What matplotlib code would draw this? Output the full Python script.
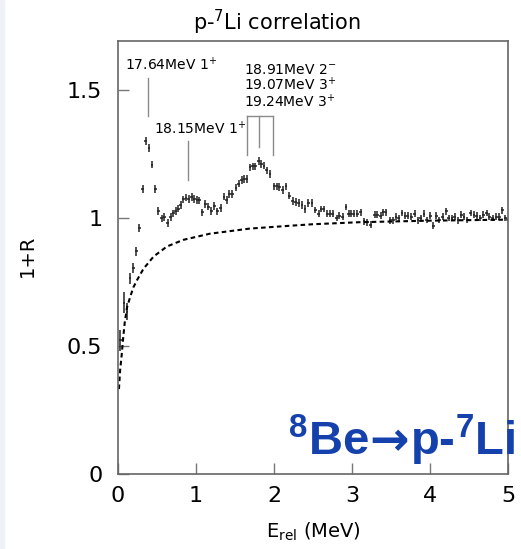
import matplotlib
matplotlib.use("Agg")
import matplotlib.pyplot as plt
from matplotlib.patches import Rectangle

plt.rcParams['font.family'] = ['DejaVu Sans']
plt.rcParams['mathtext.fontset'] = 'custom'
plt.rcParams['mathtext.rm'] = 'DejaVu Sans'
plt.rcParams['mathtext.it'] = 'DejaVu Sans:italic'
plt.rcParams['mathtext.bf'] = 'Liberation Sans:bold'

# ---- data: p-7Li correlation function 1+R vs E_rel (MeV) ----
E_rel = [0.033, 0.081, 0.119, 0.157, 0.200, 0.238, 0.277, 0.320, 0.360, 0.401,
         0.439, 0.481, 0.520, 0.563, 0.597, 0.640, 0.676, 0.711, 0.743, 0.776,
         0.807, 0.840, 0.875, 0.910, 0.948, 0.981, 1.019, 1.047, 1.083, 1.122,
         1.160, 1.198, 1.237, 1.275, 1.319, 1.361, 1.396, 1.429, 1.467, 1.515,
         1.549, 1.588, 1.617, 1.652, 1.694, 1.729, 1.762, 1.805, 1.839, 1.873,
         1.908, 1.950, 2.001, 2.036, 2.069, 2.113, 2.155, 2.197, 2.241, 2.277,
         2.318, 2.360, 2.398, 2.440, 2.488, 2.530, 2.574, 2.607, 2.641, 2.684,
         2.718, 2.753, 2.804, 2.837, 2.881, 2.923, 2.958, 2.991, 3.026, 3.068,
         3.111, 3.154, 3.196, 3.239, 3.291, 3.324, 3.367, 3.401, 3.435, 3.487,
         3.529, 3.563, 3.598, 3.640, 3.682, 3.717, 3.759, 3.803, 3.845, 3.880,
         3.922, 3.956, 3.999, 4.041, 4.076, 4.118, 4.161, 4.204, 4.238, 4.280,
         4.315, 4.357, 4.400, 4.434, 4.476, 4.520, 4.562, 4.597, 4.639, 4.681,
         4.725, 4.758, 4.802, 4.844, 4.886, 4.921, 4.963]
one_plus_R = [0.520, 0.668, 0.633, 0.762, 0.803, 0.868, 0.959, 1.111, 1.298, 1.272,
              1.207, 1.111, 1.026, 0.997, 1.002, 0.980, 1.003, 1.016, 1.026, 1.035,
              1.048, 1.071, 1.078, 1.072, 1.080, 1.072, 1.070, 1.067, 1.020, 1.052,
              1.043, 1.026, 1.044, 1.024, 1.037, 1.082, 1.070, 1.092, 1.093, 1.117,
              1.133, 1.147, 1.150, 1.150, 1.196, 1.200, 1.200, 1.222, 1.210, 1.203,
              1.184, 1.171, 1.122, 1.122, 1.119, 1.109, 1.122, 1.086, 1.066, 1.062,
              1.058, 1.048, 1.034, 1.057, 1.057, 1.030, 1.015, 1.033, 1.033, 1.015,
              1.015, 1.015, 0.998, 1.007, 1.004, 1.041, 1.015, 1.015, 1.015, 1.015,
              1.020, 0.985, 0.981, 0.972, 1.011, 1.011, 1.007, 1.020, 1.020, 0.989,
              0.989, 1.004, 0.998, 1.018, 1.007, 1.007, 1.004, 1.015, 0.989, 0.998,
              1.015, 0.991, 1.007, 0.968, 1.007, 0.991, 1.004, 1.024, 0.998, 0.998,
              1.004, 0.989, 1.011, 1.004, 0.991, 1.018, 1.011, 1.007, 0.998, 1.011,
              1.018, 1.004, 0.998, 1.004, 1.004, 1.028, 0.998]
low_E_errors = [0.042, 0.042, 0.033, 0.022, 0.020, 0.018, 0.016, 0.016]
mid_error = 0.015
tail_error = 0.013
bin_half_width = 0.018

# dashed curve (non-resonant baseline)
curve_E = [0.016, 0.03, 0.05, 0.07, 0.09, 0.12, 0.16, 0.20, 0.25, 0.33, 0.46,
           0.63, 0.84, 1.18, 1.69, 2.2, 2.5, 3.1, 4.0, 5.0]
curve_R = [0.33, 0.40, 0.46, 0.53, 0.59, 0.65, 0.69, 0.727, 0.757, 0.80, 0.848,
           0.887, 0.913, 0.937, 0.957, 0.968, 0.974, 0.982, 0.988, 0.992]

# 8Be excited levels and p+7Li threshold
threshold = 17.255
level_single = [17.64, 18.15]
level_single_labels = ["17.64MeV 1$^{+}$", "18.15MeV 1$^{+}$"]
level_group = [18.91, 19.07, 19.24]
level_group_labels = ["18.91MeV 2$^{-}$", "19.07MeV 3$^{+}$", "19.24MeV 3$^{+}$"]

x_ticks = [0, 1, 2, 3, 4, 5]
y_ticks = [0, 0.5, 1, 1.5]
y_tick_labels = ["0", "0.5", "1", "1.5"]

# ---- figure ----
W, H = 521, 549
fig = plt.figure(figsize=(W / 100, H / 100), dpi=100)
fig.add_artist(Rectangle((0, 0), 4 / W, 1, transform=fig.transFigure,
                         color='#eef2f6', zorder=-5))
ax = fig.add_axes([117.7 / W, 1 - 473.5 / H, 390.6 / W, 432.5 / H])

n = len(E_rel)
yerr = [low_E_errors[i] if i < len(low_E_errors) else (mid_error if E_rel[i] < 2.5 else tail_error)
        for i in range(n)]
ax.errorbar(E_rel, one_plus_R, yerr=yerr, xerr=bin_half_width, fmt='none',
            ecolor='#222222', elinewidth=1.1, capsize=0)
ax.plot(curve_E, curve_R, color='black', lw=1.5, ls=(0, (2.2, 1.6)))

# level markers
gray = '#8a8a8a'
e0 = level_single[0] - threshold
ax.plot([e0, e0], [1.395, 1.546], color=gray, lw=1)
ax.text(0.097, 1.575, level_single_labels[0], fontsize=10, ha='left', va='baseline')
e1 = level_single[1] - threshold
ax.plot([e1, e1], [1.148, 1.298], color=gray, lw=1)
ax.text(0.469, 1.327, level_single_labels[1], fontsize=10, ha='left', va='baseline')
eg = [v - threshold for v in level_group]
ax.plot([eg[0], eg[-1]], [1.395, 1.395], color=gray, lw=1)
for e, ybot in zip(eg, [1.246, 1.276, 1.246]):
    ax.plot([e, e], [ybot, 1.395], color=gray, lw=1)
for lab, yb in zip(level_group_labels, [1.562, 1.496, 1.430]):
    ax.text(1.617, yb, lab, fontsize=10, ha='left', va='baseline')

ax.set_xlim(0, 5)
ax.set_ylim(0, 1.69)
ax.set_xticks(x_ticks)
ax.set_xticklabels([str(t) for t in x_ticks])
ax.set_yticks(y_ticks)
ax.set_yticklabels(y_tick_labels)
ax.tick_params(direction='in', length=8, width=1, color='#777777',
               labelsize=16, top=False, right=False)
ax.tick_params(axis='x', pad=9)
ax.tick_params(axis='y', pad=11)
for s in ax.spines.values():
    s.set_color('#666666')
    s.set_linewidth(1.2)

ax.set_xlabel(r'E$_{\mathrm{rel}}$ (MeV)', fontsize=14)
ax.xaxis.set_label_coords(0.5, -0.108)
ax.set_ylabel('1+R', fontsize=14)
ax.yaxis.set_label_coords(-0.208, 0.503)

fig.text(277 / W, 1 - 30 / H, r'p-$^{7}$Li correlation', fontsize=15,
         ha='center', va='baseline')

# blue reaction label, built from three pieces
blue = '#1541ad'
renderer = fig.canvas.get_renderer()
x_px, base_px = 288, 455
pieces = [(r'$\mathbf{{}^{8}}$Be', ['Liberation Sans'], 0),
          ('→', ['DejaVu Sans'], 1),
          (r'p-$\mathbf{{}^{7}}$Li', ['Liberation Sans'], 2)]
for txt, fam, gap in pieces:
    t = fig.text(x_px / W, 1 - base_px / H, txt, fontsize=34, fontweight='bold',
                 family=fam, color=blue, ha='left', va='baseline', zorder=10)
    bb = t.get_window_extent(renderer=renderer)
    x_px = bb.x1 + gap

fig.savefig('out.png', dpi=100)
